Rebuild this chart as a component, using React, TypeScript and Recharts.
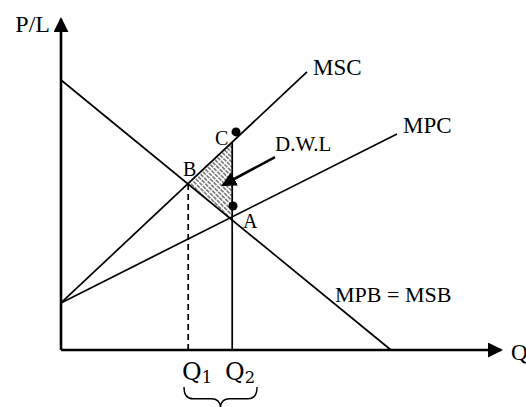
import React from 'react'
import {
  ComposedChart,
  Line,
  Area,
  Scatter,
  XAxis,
  YAxis,
  ReferenceLine,
  ReferenceDot,
  ReferenceArea
} from 'recharts'

// curves (q = quantity, p = price / cost)
const mpbLine = [{ q: 0, p: 90 }, { q: 82.5, p: 0 }]
const mscLine = [{ q: 0, p: 15.7 }, { q: 61.5, p: 92.7 }]
const mpcLine = [{ q: 0, p: 15.7 }, { q: 84, p: 72 }]

// Q1 (social optimum, B) and Q2 (market output, A / C)
const q1Drop = [{ q: 31.8, p: 0 }, { q: 31.8, p: 55.5 }]
const q2Drop = [{ q: 42.8, p: 0 }, { q: 42.8, p: 69.3 }]

// dead weight loss triangle B-C-A
const dwlArea = [
  { q: 31.8, band: [55.5, 55.5] },
  { q: 42.8, band: [43.4, 69.3] }
]

const markedDots = [{ q: 43.75, p: 72.7 }, { q: 43, p: 48 }]
const dwlPointer = [{ q: 53.5, p: 64.3 }, { q: 40.5, p: 55 }]

const serif = '"Liberation Serif", "Times New Roman", serif'

const tag = (text: string, size: number, anchor = 'start', sub?: string, font = serif) =>
  (props: any) => (
    <text
      x={props.cx}
      y={props.cy}
      fontFamily={font}
      fontSize={size}
      fill="#000"
      textAnchor={anchor}
    >
      {text}
      {sub && <tspan fontSize={size * 0.68} dy={3}>{sub}</tspan>}
    </text>
  )

const Brace = (props: any) => {
  const { x, y, width, height } = props
  const mid = y + height * 0.55
  const cx = x + width / 2
  const r = 9
  const d = `M${x},${y} Q${x},${mid} ${x + r},${mid} L${cx - r},${mid} Q${cx},${mid} ${cx},${y + height}
    Q${cx},${mid} ${cx + r},${mid} L${x + width - r},${mid} Q${x + width},${mid} ${x + width},${y}`
  return <path d={d} fill="none" stroke="#000" strokeWidth={1.4} />
}

export default function App() {
  return (
    <div style={{ position: 'absolute', left: 0, top: 0, background: '#fff' }}>
      <ComposedChart
        width={526}
        height={407}
        margin={{ top: 17, right: 23, bottom: 57, left: 61 }}
      >
        <defs>
          <marker id="axisHead" viewBox="0 0 15 15" markerWidth={15} markerHeight={15}
            refX={13} refY={7.5} orient="auto" markerUnits="userSpaceOnUse">
            <path d="M0,0 L15,7.5 L0,15 Z" fill="#000" />
          </marker>
          <marker id="pointerHead" viewBox="0 0 15 15" markerWidth={15} markerHeight={15}
            refX={13} refY={7.5} orient="auto" markerUnits="userSpaceOnUse">
            <path d="M0,0 L15,7.5 L0,15 Z" fill="#000" />
          </marker>
          <pattern id="hatch" width={10} height={3.4} patternUnits="userSpaceOnUse"
            patternTransform="rotate(45)">
            <line x1={0} y1={1.7} x2={10} y2={1.7} stroke="#000" strokeWidth={1}
              strokeDasharray="4 1" />
          </pattern>
        </defs>

        <XAxis type="number" dataKey="q" domain={[0, 110.5]} hide />
        <YAxis type="number" dataKey="p" domain={[0, 111]} hide />

        <Area data={dwlArea} dataKey="band" type="linear" stroke="none"
          fill="url(#hatch)" fillOpacity={1} isAnimationActive={false} />

        <Line data={mpbLine} dataKey="p" type="linear" stroke="#000" strokeWidth={1.7}
          dot={false} isAnimationActive={false} />
        <Line data={mscLine} dataKey="p" type="linear" stroke="#000" strokeWidth={1.7}
          dot={false} isAnimationActive={false} />
        <Line data={mpcLine} dataKey="p" type="linear" stroke="#000" strokeWidth={1.7}
          dot={false} isAnimationActive={false} />
        <Line data={q1Drop} dataKey="p" type="linear" stroke="#000" strokeWidth={1.7}
          strokeDasharray="6 4" dot={false} isAnimationActive={false} />
        <Line data={q2Drop} dataKey="p" type="linear" stroke="#000" strokeWidth={1.7}
          dot={false} isAnimationActive={false} />
        <Line data={dwlPointer} dataKey="p" type="linear" stroke="#000" strokeWidth={2.6}
          dot={false} markerEnd="url(#pointerHead)" isAnimationActive={false} />

        <Scatter data={markedDots} dataKey="p" fill="#000" isAnimationActive={false} />

        <ReferenceLine segment={[{ x: 0, y: 0 }, { x: 110, y: 0 }]} stroke="#000"
          strokeWidth={2.6} markerEnd="url(#axisHead)" ifOverflow="visible" />
        <ReferenceLine segment={[{ x: 0, y: 0 }, { x: 0, y: 110.3 }]} stroke="#000"
          strokeWidth={2.6} markerEnd="url(#axisHead)" ifOverflow="visible" />

        <ReferenceArea x1={30.75} x2={49} y1={-12.3} y2={-19.5} ifOverflow="visible"
          shape={Brace} />

        <ReferenceDot x={-2.75} y={106} ifOverflow="visible" shape={tag('P/L', 24, 'end')} />
        <ReferenceDot x={112.5} y={-3.3} ifOverflow="visible" shape={tag('Q', 23)} />
        <ReferenceDot x={63} y={91.7} ifOverflow="visible" shape={tag('MSC', 23)} />
        <ReferenceDot x={85.5} y={72.3} ifOverflow="visible" shape={tag('MPC', 23)} />
        <ReferenceDot x={68.5} y={16} ifOverflow="visible" shape={tag('MPB = MSB', 22)} />
        <ReferenceDot x={53.5} y={66.3} ifOverflow="visible" shape={tag('D.W.L', 21)} />
        <ReferenceDot x={38.5} y={68.3} ifOverflow="visible" shape={tag('C', 20)} />
        <ReferenceDot x={30.5} y={58} ifOverflow="visible" shape={tag('B', 20)} />
        <ReferenceDot x={45.5} y={40.7} ifOverflow="visible" shape={tag('A', 20)} />
        <ReferenceDot x={30.25} y={-10} ifOverflow="visible"
          shape={tag('Q', 24, 'start', '1', '"DejaVu Serif", serif')} />
        <ReferenceDot x={41} y={-10} ifOverflow="visible"
          shape={tag('Q', 24, 'start', '2', '"DejaVu Serif", serif')} />
      </ComposedChart>
    </div>
  )
}
